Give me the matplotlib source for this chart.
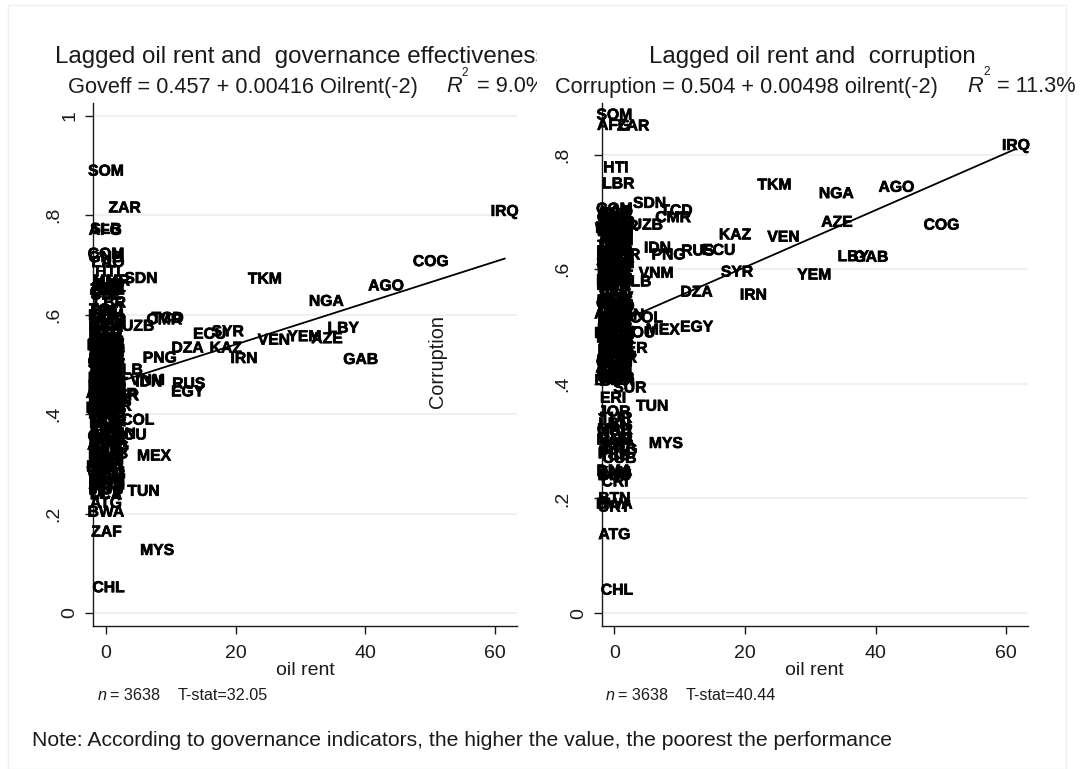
import matplotlib
matplotlib.use("Agg")
import matplotlib.pyplot as plt
import matplotlib.patheffects as pe
from matplotlib.patches import Rectangle
from matplotlib.transforms import Bbox

W, H = 1081, 769

# country labels, oil rent is shared by both panels
codes = ["SOM", "ZAR", "IRQ", "COG", "AGO", "NGA", "LBY", "GAB", "AZE", "YEM", "VEN", "IRN", "KAZ", "SYR", "EGY",
         "ECU", "DZA", "PNG", "RUS", "MEX", "TUN", "MYS", "SDN", "TCD", "CMR", "UZB", "COL", "IDN", "VNM", "TKM",
         "HTI", "LBR", "AFG", "ATG", "BWA", "CHL", "SUR", "ERI", "JOR", "ZAF", "BTN", "URY", "CRI", "DMA", "NAM",
         "ALB", "PER", "ROU", "BLR", "CHN",
         "GHA", "COM", "SLB", "LAO", "GNB", "TJK", "KGZ", "MMR", "ZWE", "CAF", "GIN", "BDI", "NER", "SLE", "TGO",
         "NPL", "KHM", "BGD", "PAK", "ETH", "UGA", "KEN", "TZA", "MOZ", "MWI", "ZMB", "RWA", "BEN", "BFA", "MLI",
         "SEN", "CIV", "MDG", "GMB", "MRT", "LSO", "DJI", "PRY", "BOL", "HND", "NIC", "GTM", "SLV", "DOM", "PHL",
         "LKA", "IND", "THA", "UKR", "MDA", "GEO", "ARM", "BIH", "MKD", "SRB", "BGR", "TUR", "LBN", "MAR", "BRA",
         "ARG", "PAN", "CUB", "JAM", "GUY", "BLZ", "FJI", "WSM", "TON", "VUT", "MNG", "SWZ", "MUS", "CPV", "LCA",
         "VCT", "GRD", "KNA", "BHS", "BRB", "STP", "PRK", "TLS", "KIR", "MHL", "FSM", "SYC", "MDV", "MNE", "HRV",
         "POL", "HUN", "SVK", "LVA", "LTU", "GRC", "TTO", "BRN", "PLW", "TUV",
         "SSD", "MAC", "CYP", "MLT", "SVN", "CZE", "EST", "KOR", "ISR", "PRI", "ABW", "AND", "LIE", "MCO", "SMR",
         "GRL", "NCL", "PYF", "GUM", "ASM", "VIR", "CYM", "BMU", "HKG", "TWN"]
oil_rent = [0, 2.9, 61.5, 50.1, 43.2, 34, 36.6, 39.3, 34.1, 30.6, 25.9, 21.3, 18.5, 18.8, 12.6,
            16, 12.6, 8.3, 12.8, 7.4, 5.8, 7.9, 5.4, 9.5, 9, 5, 4.9, 6.6, 6.4, 24.5,
            0.2, 0.6, -0.1, 0, 0, 0.4, 2.4, -0.2, 0, 0.1, 0, 0, 0.1, 0, 0,
            3.2, 2.6, 3.6, 1.5, 2,
            0.5, 0, 0, 0.3, 0, 0.4, 0.5, 0.8, 0.2, 0, 0.2, 0, 0.3, 0, 0,
            0, 0, 0.4, 0.6, 0, 0, 0, 0.1, 0, 0, 0.1, 0, 0, 0, 0,
            0.1, 0.9, 0.1, 0, 0.2, 0, 0, 0, 0.9, 0, 0.1, 0.4, 0, 0, 0.2,
            0, 0.7, 0.8, 0.9, 0, 0.1, 0, 0, 0, 0.6, 0.4, 0.3, 0, 0.1, 0.8,
            0.9, 0, 0.8, 0, 0, 0.1, 0, 0, 0, 0, 0.1, 0, 0, 0, 0,
            0, 0, 0, 0, 0.3, 0, 0, 0, 0, 0, 0, 0, 0, 0.2, 0.3,
            0.4, 0.2, 0.1, 0, 0.1, 0, 0.7, 0.5, 0, 0,
            0.2, -0.2, 0.4, 0.1, -0.3, 0.3, 0.5, -0.1, 0.2, 0.4, -0.2, 0.1, 0.3, -0.3, 0.5,
            0.2, -0.1, 0.4, 0, -0.2, 0.3, 0.1, -0.3, 0.4, 0.2]
goveff = [.889, .815, .808, .707, .658, .627, .573, .510, .552, .556, .549, .512, .533, .566, .445,
          .561, .533, .513, .461, .316, .245, .126, .673, .593, .590, .577, .388, .465, .468, .672,
          .687, .624, .770, .221, .203, .051, .440, .600, .420, .163, .330, .395, .365, .300, .320,
          .489, .437, .358, .416, .360,
          .425, .722, .772, .705, .715, .660, .655, .668, .650, .645, .660, .648, .652, .640, .610,
          .605, .598, .592, .585, .580, .575, .570, .565, .563, .550, .545, .540, .535, .530, .525,
          .520, .515, .510, .505, .500, .495, .490, .485, .480, .475, .470, .465, .460, .455, .450,
          .445, .440, .435, .430, .425, .415, .410, .405, .400, .392, .385, .378, .372, .350, .342,
          .335, .328, .320, .312, .305, .298, .290, .282, .275, .268, .262, .255, .248, .242, .238,
          .500, .510, .520, .530, .540, .480, .470, .460, .450, .440, .430, .420, .410, .540, .528,
          .518, .508, .498, .488, .478, .468, .458, .448, .438, .428,
          .548, .538, .526, .514, .502, .492, .482, .472, .462, .452, .442, .432, .422, .412, .402,
          .395, .382, .368, .355, .338, .322, .308, .294, .278, .258]
corruption = [.869, .850, .816, .677, .743, .732, .622, .621, .682, .590, .656, .555, .660, .595, .499,
              .633, .560, .625, .632, .494, .361, .296, .715, .702, .690, .677, .515, .637, .593, .747,
              .778, .749, .851, .137, .190, .040, .393, .375, .351, .450, .200, .185, .229, .248, .302,
              .578, .462, .489, .625, .520,
              .460, .705, .695, .700, .690, .685, .680, .675, .670, .665, .660, .655, .650, .645, .640,
              .635, .630, .625, .620, .615, .610, .605, .600, .595, .590, .585, .580, .575, .570, .565,
              .555, .550, .545, .540, .535, .530, .515, .510, .505, .500, .495, .490, .485, .480, .475,
              .470, .465, .455, .445, .440, .435, .430, .420, .415, .410, .405, .340, .330, .320, .290,
              .285, .280, .270, .245, .240, .690, .680, .670, .650, .640, .630, .620, .610, .600, .590,
              .580, .320, .245, .240, .302, .295, .278, .275, .408, .515, .525, .505, .495, .475, .465,
              .455, .445, .435, .425, .412, .545, .535, .610, .600, .590,
              .698, .672, .662, .628, .612, .598, .588, .572, .548, .538, .522, .512, .502, .488, .478,
              .468, .458, .448, .438, .428, .418, .410, .406, .683, .652]

x_ticks = [0, 20, 40, 60]
left_y_ticks = [0, .2, .4, .6, .8, 1]
left_y_labels = ["0", ".2", ".4", ".6", ".8", "1"]
right_y_ticks = [0, .2, .4, .6, .8]
right_y_labels = ["0", ".2", ".4", ".6", ".8"]

# fitted lines, ends taken from the equations in the subtitles
fit_x = [0, 61.5]
left_fit = [0.457, 0.713]
right_fit = [0.504, 0.810]

plt.rcParams["font.family"] = ["Liberation Sans", "DejaVu Sans"]
GRID = "#eaf2f3"
DARK = "#1a1a1a"

fig = plt.figure(figsize=(W / 100, H / 100), dpi=100, facecolor="white")
fig.patches.append(Rectangle((8 / W, 0), 1058 / W, 1 - 5 / H, transform=fig.transFigure,
                             facecolor="none", edgecolor=GRID, lw=1))


def px_axes(x0, x1, y0, y1):
    return fig.add_axes([x0 / W, 1 - y1 / H, (x1 - x0) / W, (y1 - y0) / H])


def px_text(x, y, s, **kw):
    return fig.text(x / W, 1 - y / H, s, **kw)


def panel(ax, values, fit, yticks, ylabels, xlim, ylim):
    ax.set_xlim(*xlim)
    ax.set_ylim(*ylim)
    ax.set_xticks(x_ticks)
    ax.set_yticks(yticks)
    ax.set_yticklabels(ylabels, rotation=90, va="center")
    ax.tick_params(axis="both", length=5.8, width=1, color=DARK, labelsize=14, labelcolor=DARK)
    ax.tick_params(axis="x", pad=8)
    ax.tick_params(axis="y", pad=4.5)
    # the decimal labels sit further out than 0 and 1 in the original
    for tick, lab in zip(ax.yaxis.get_major_ticks(), ylabels):
        if lab.startswith("."):
            tick.set_pad(16)
    ax.grid(axis="y", color=GRID, lw=1.5)
    ax.set_axisbelow(True)
    for s in ["top", "right"]:
        ax.spines[s].set_visible(False)
    for s in ["left", "bottom"]:
        ax.spines[s].set_color(DARK)
        ax.spines[s].set_linewidth(1)
    ax.patch.set_alpha(0)
    # heavy look in the original comes from labels printed over each other
    heavy = [pe.withStroke(linewidth=0.5, foreground="black")]
    for c, x, y in zip(codes, oil_rent, values):
        ax.text(x, y, c, ha="center", va="center", fontsize=11.3, fontweight="bold", color="black",
                clip_on=False, path_effects=heavy)
    ax.plot(fit_x, fit, color="black", lw=1.3)
    ax.set_xlabel("oil rent", fontsize=14, color=DARK, labelpad=0)


ax1 = px_axes(93, 517, 103, 625.7)
panel(ax1, goveff, left_fit, left_y_ticks, left_y_labels, (-2.0, 63.4), (-0.0255, 1.026))
ax2 = px_axes(601.5, 1028, 103.3, 625.7)
panel(ax2, corruption, right_fit, right_y_ticks, right_y_labels, (-1.97, 63.35), (-0.022, 0.8895))

# stray y title from the stata graph sits inside the left panel
px_text(438, 362, "Corruption", rotation=90, ha="center", va="center", fontsize=14.3, color=DARK)

cut = Bbox([[0, 0], [537, H]])
t_kw = dict(fontsize=17.35, color=DARK, va="center")
t1 = px_text(55, 57, "Lagged oil rent and  governance effectiveness", **t_kw)
t1.set_clip_box(cut)
t1.set_clip_on(True)
px_text(649, 57, "Lagged oil rent and  corruption", **t_kw)

s_kw = dict(fontsize=15.7, color=DARK, va="center")
px_text(68, 87, "Goveff = 0.457 + 0.00416 Oilrent(-2)", **s_kw)
px_text(446, 87, "R", style="italic", **s_kw)
px_text(461, 73, "2", fontsize=8.5, color=DARK, va="center")
t2 = px_text(477, 87, "= 9.0%", **s_kw)
t2.set_clip_box(cut)
t2.set_clip_on(True)
px_text(555, 87, "Corruption = 0.504 + 0.00498 oilrent(-2)", **s_kw)
px_text(967, 87, "R", style="italic", **s_kw)
px_text(983, 72, "2", fontsize=8.5, color=DARK, va="center")
px_text(997, 87, "= 11.3%", **s_kw)

n_kw = dict(fontsize=11.6, color=DARK, va="center")
px_text(98, 695, "n", style="italic", **n_kw)
px_text(110, 695, "= 3638", **n_kw)
px_text(178, 695, "T-stat=32.05", **n_kw)
px_text(606, 695, "n", style="italic", **n_kw)
px_text(618, 695, "= 3638", **n_kw)
px_text(686, 695, "T-stat=40.44", **n_kw)

px_text(32, 741, "Note: According to governance indicators, the higher the value, the poorest the performance",
        fontsize=15.2, color=DARK, va="center")

fig.savefig("out.png", dpi=100, facecolor="white")
